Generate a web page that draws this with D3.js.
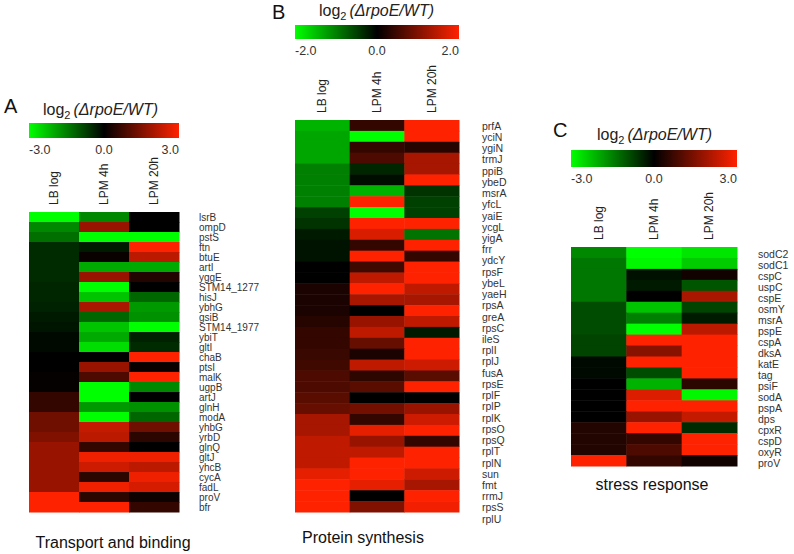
<!DOCTYPE html>
<html>
<head>
<meta charset="utf-8">
<script src="https://cdn.jsdelivr.net/npm/d3@7"></script>
<style>
  body { margin: 0; background: #fff; }
  text { font-family: "Liberation Sans", Arial, sans-serif; }
</style>
</head>
<body>
<div id="chart"></div>
<script>
var w = 794,
	h = 554;

// column (condition) names, shared by all three panels
var conditions = ["LB log", "LPM 4h", "LPM 20h"];

// A: Transport and binding  (values: LB log, LPM 4h, LPM 20h)
var genesA = ["lsrB","ompD","pstS","ftn","btuE","artI","yggE","STM14_1277","hisJ","ybhG",
	"gsiB","STM14_1977","ybiT","gltI","chaB","ptsI","malK","ugpB","artJ","glnH",
	"modA","yhbG","yrbD","glnQ","gltJ","yhcB","cycA","fadL","proV","bfr"];
var valuesA = [
	[-3.0,-1.6, 0.0], [-1.6, 1.8, 0.0], [-1.3,-3.0,-3.0], [-0.5,-0.3, 3.0], [-0.5, 0.1, 2.2],
	[-0.5,-2.0,-2.0], [-0.5, 1.8, 0.4], [-0.45,-3.0, 0.0], [-0.45,-2.3,-1.2], [-0.4, 2.0,-1.8],
	[-0.3,-1.2,-1.7], [-0.25,-2.3,-3.0], [-0.1,-2.0,-0.4], [-0.1,-2.6,-0.5], [0.0, 0.0, 3.0],
	[0.0, 1.8, 0.1], [0.05, 0.9, 3.0], [0.05,-3.0,-1.6], [0.6,-3.0, 0.0], [0.6,-1.8,-1.7],
	[1.3,-3.0,-1.2], [1.3, 2.3, 1.3], [1.5, 2.2, 0.5], [1.8, 0.6, 0.0], [1.8, 2.8, 2.8],
	[1.8, 2.4, 2.2], [1.8, 0.5, 2.8], [1.8, 2.8, 2.5], [3.0, 0.5, 0.15], [3.0, 3.0, 0.6]
];

// B: Protein synthesis
var genesB = ["prfA","yciN","ygiN","trmJ","ppiB","ybeD","msrA","yfcL","yaiE","ycgL",
	"yigA","frr","ydcY","rpsF","ybeL","yaeH","rpsA","greA","rpsC","ileS",
	"rplI","rplJ","fusA","rpsE","rplF","rplP","rplK","rpsO","rpsQ","rplT",
	"rplN","sun","fmt","rrmJ","rpsS","rplU"];
var valuesB = [
	[-1.4, 0.4, 2.0], [-1.3,-2.0, 2.0], [-1.3, 0.4, 0.3], [-1.3, 0.6, 1.3], [-1.0,-0.3, 1.3],
	[-1.0,-0.1, 2.0], [-1.0,-1.4,-0.4], [-1.0, 2.0,-0.5], [-0.5,-2.0,-0.5], [-0.4, 2.0, 2.0],
	[-0.2, 1.7,-0.9], [-0.15, 0.4, 2.0], [-0.15, 2.0, 0.4], [0.0, 0.5, 2.0], [0.0, 1.5, 2.0],
	[0.2, 2.0, 1.5], [0.2, 1.3, 1.3], [0.2, 0.0, 2.0], [0.3, 1.2, 1.5], [0.4, 1.5,-0.2],
	[0.4, 0.8, 2.0], [0.45, 0.2, 2.0], [0.5, 1.5, 1.6], [0.6, 0.35, 0.7], [0.6, 0.7, 2.0],
	[0.7, 0.0, 0.0], [0.8, 0.9, 1.2], [1.3, 0.4, 1.6], [1.3, 1.8, 2.0], [1.5, 1.2, 0.4],
	[1.5, 1.5, 2.0], [1.5, 2.0, 2.0], [1.8, 2.0, 1.6], [2.0, 1.8, 1.3], [2.0, 0.0, 2.0],
	[2.0, 1.0, 1.9]
];

// C: stress response
var genesC = ["sodC2","sodC1","cspC","uspC","cspE","osmY","msrA","pspE","cspA","dksA",
	"katE","tag","psiF","sodA","pspA","dps","cpxR","cspD","oxyR","proV"];
var valuesC = [
	[-1.6,-3.0,-2.7], [-1.4,-2.9,-2.4], [-1.4,-0.2, 0.2], [-1.4,-0.3,-1.0], [-1.4, 0.0, 2.0],
	[-0.9,-2.3,-0.8], [-0.9,-1.5,-0.3], [-0.9,-3.0, 2.2], [-0.8, 3.0, 3.0], [-0.8, 1.6, 3.0],
	[-0.1, 3.0, 3.0], [-0.1,-0.9, 3.0], [0.0,-2.1, 0.5], [0.0, 2.6,-2.9], [0.0, 3.0, 3.0],
	[0.0, 1.8, 2.3], [0.4, 3.0,-0.5], [0.4, 0.6, 3.0], [0.4, 0.9, 3.0], [3.0, 0.6, 0.2]
];

// colour bar limits and tick labels
var limitA = 3, ticksA = ["-3.0", "0.0", "3.0"];
var limitB = 2, ticksB = ["-2.0", "0.0", "2.0"];
var limitC = 3, ticksC = ["-3.0", "0.0", "3.0"];

var svg = d3.select("#chart").append("svg")
	.attr("width", w)
	.attr("height", h);

var defs = svg.append("defs");

function drawPanel(p) {
	var color = d3.scaleLinear()
		.domain([-p.limit, 0, p.limit])
		.range(["#00ff00", "#000000", "#ff2200"])
		.clamp(true);

	var x = d3.scaleBand().domain(conditions).range([p.x0, p.x1]);
	var y = d3.scaleBand().domain(p.genes).range([p.y0, p.y1]);
	var yLab = d3.scalePoint().domain(p.genes).range(p.labelRange);

	var g = svg.append("g").attr("class", "panel-" + p.id);

	// panel letter
	g.append("text")
		.attr("x", p.letterX)
		.attr("y", p.letterY)
		.attr("font-size", "20px")
		.attr("fill", "#111")
		.text(p.id);

	// legend title log2(ΔrpoE/WT)
	var title = g.append("text")
		.attr("x", p.titleX)
		.attr("y", p.titleY)
		.attr("font-size", "16px")
		.attr("fill", "#222");
	title.append("tspan").text("log");
	title.append("tspan").attr("font-size", "11px").attr("dy", 4).text("2");
	title.append("tspan").attr("dy", -4).attr("dx", 3).attr("font-style", "italic").text("(\u0394rpoE/WT)");

	// colour bar
	var gradId = "grad" + p.id;
	var grad = defs.append("linearGradient").attr("id", gradId);
	[-1, -0.5, 0, 0.5, 1].forEach(function(t) {
		grad.append("stop")
			.attr("offset", ((t + 1) / 2 * 100) + "%")
			.attr("stop-color", color(t * p.limit));
	});
	g.append("rect")
		.attr("x", p.x0)
		.attr("y", p.barY)
		.attr("width", p.x1 - p.x0)
		.attr("height", p.barH)
		.style("fill", "url(#" + gradId + ")");

	var anchors = ["start", "middle", "end"];
	var tickX = [p.x0, (p.x0 + p.x1) / 2, p.x1];
	g.selectAll(".tick-lab")
		.data(p.ticks)
		.enter()
		.append("text")
		.attr("class", "tick-lab")
		.attr("x", function(d, i) { return tickX[i]; })
		.attr("y", p.barY + p.barH + 16)
		.attr("text-anchor", function(d, i) { return anchors[i]; })
		.attr("font-size", "12.5px")
		.attr("fill", "#333")
		.text(function(d) { return d; });

	// column labels, rotated
	g.selectAll(".col-lab")
		.data(conditions)
		.enter()
		.append("text")
		.attr("class", "col-lab")
		.attr("transform", function(d) {
			return "translate(" + (x(d) + x.bandwidth() / 2 + 4) + "," + p.colLabY + ") rotate(-90)";
		})
		.attr("font-size", "12px")
		.attr("fill", "#222")
		.text(function(d) { return d; });

	// heat map cells
	var cells = [];
	p.values.forEach(function(row, i) {
		row.forEach(function(v, j) {
			cells.push({gene: p.genes[i], cond: conditions[j], value: v});
		});
	});
	g.selectAll(".cell")
		.data(cells)
		.enter()
		.append("rect")
		.attr("class", "cell")
		.attr("x", function(d) { return x(d.cond); })
		.attr("y", function(d) { return y(d.gene); })
		.attr("width", x.bandwidth() + 0.5)
		.attr("height", y.bandwidth() + 0.5)
		.style("fill", function(d) { return color(d.value); });

	// gene names
	g.selectAll(".gene-lab")
		.data(p.genes)
		.enter()
		.append("text")
		.attr("class", "gene-lab")
		.attr("x", p.labelX)
		.attr("y", function(d) { return yLab(d); })
		.attr("dy", "0.35em")
		.attr("font-size", p.labelSize)
		.attr("fill", "#333")
		.text(function(d) { return d; });

	// caption under the panel
	g.append("text")
		.attr("x", p.captionX)
		.attr("y", p.captionY)
		.attr("text-anchor", "middle")
		.attr("font-size", "16px")
		.attr("fill", "#111")
		.text(p.caption);
}

drawPanel({
	id: "A", genes: genesA, values: valuesA, limit: limitA, ticks: ticksA,
	x0: 29, x1: 179, y0: 212, y1: 512,
	barY: 123, barH: 15, titleX: 43, titleY: 115, letterX: 4, letterY: 113,
	colLabY: 205, labelX: 199, labelRange: [217, 507], labelSize: "10px",
	caption: "Transport and binding", captionX: 113, captionY: 548
});

drawPanel({
	id: "B", genes: genesB, values: valuesB, limit: limitB, ticks: ticksB,
	x0: 295, x1: 459, y0: 120, y1: 512,
	barY: 25, barH: 14, titleX: 319, titleY: 16, letterX: 272, letterY: 19,
	colLabY: 113, labelX: 482, labelRange: [126, 519], labelSize: "10.5px",
	caption: "Protein synthesis", captionX: 363, captionY: 543
});

drawPanel({
	id: "C", genes: genesC, values: valuesC, limit: limitC, ticks: ticksC,
	x0: 571, x1: 737, y0: 247, y1: 466,
	barY: 150, barH: 17, titleX: 597, titleY: 140, letterX: 553, letterY: 137,
	colLabY: 240, labelX: 758, labelRange: [254, 463], labelSize: "10.5px",
	caption: "stress response", captionX: 652, captionY: 490
});
</script>
</body>
</html>
